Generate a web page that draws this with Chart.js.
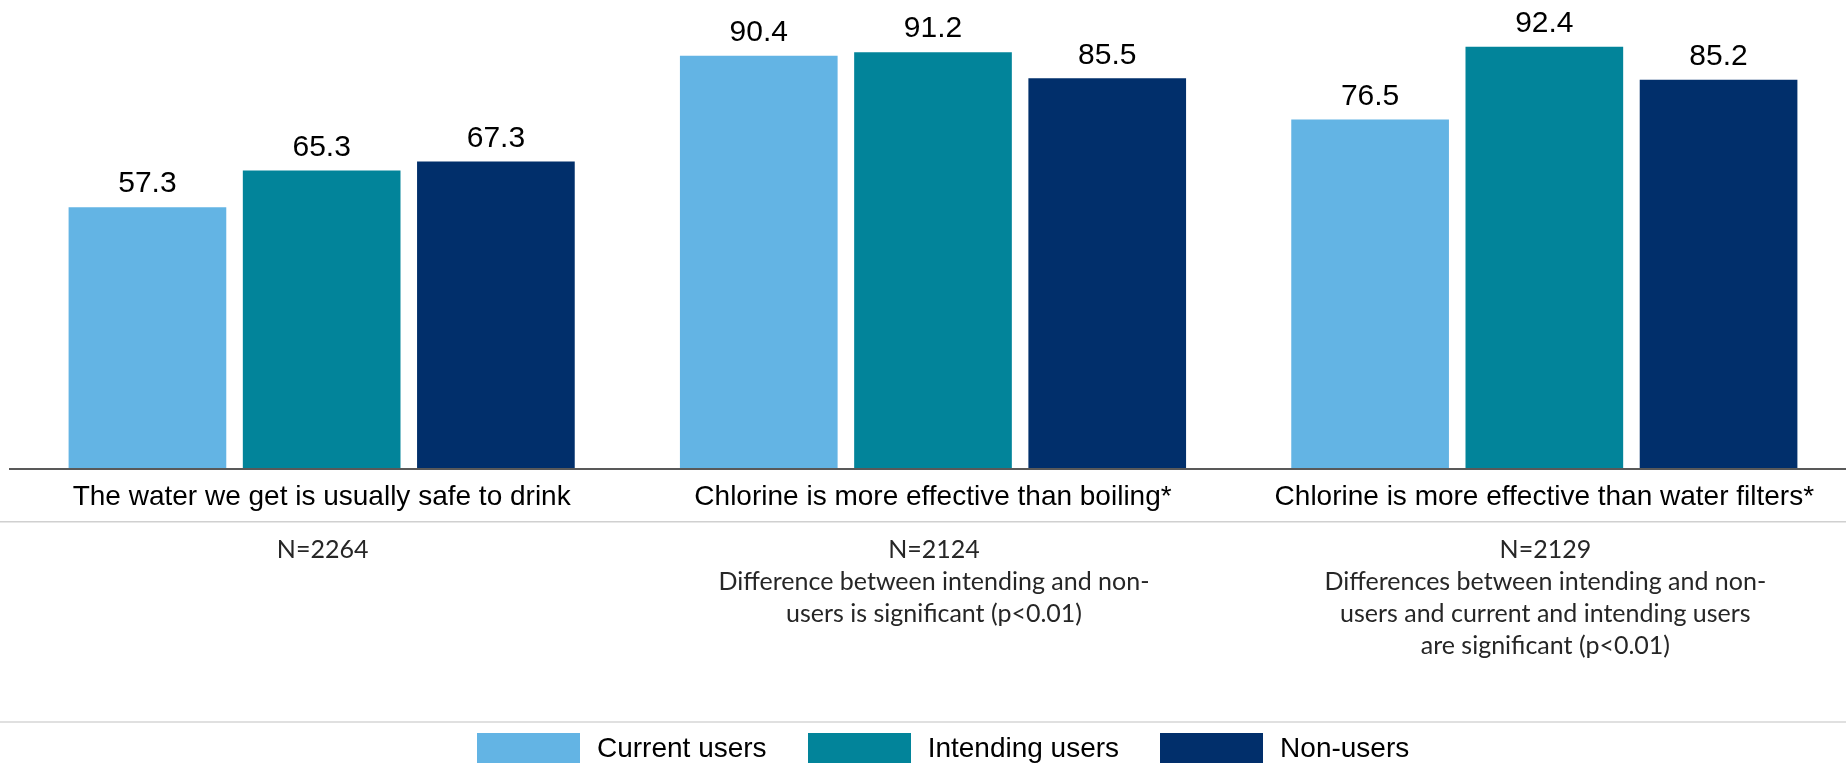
<!DOCTYPE html>
<html>
<head>
<meta charset="utf-8">
<script src="https://cdn.jsdelivr.net/npm/chart.js@4/dist/chart.umd.min.js"></script>
<style>
  html, body { margin: 0; padding: 0; background: #fff; }
  #wrap { position: relative; width: 1846px; height: 763px; overflow: hidden; }
  #chart { position: absolute; left: 0; top: 0; }
  .legend { position: absolute; left: 477px; top: 732px; display: flex; align-items: center;
            font-family: "Liberation Sans", Arial, sans-serif; font-size: 28px; color: #000; }
  .legend .item { display: flex; align-items: center; margin-right: 41px; }
  .legend .box { width: 103px; height: 30px; margin-right: 17px; }
</style>
</head>
<body>
<div id="wrap">
  <canvas id="chart" width="1850" height="763"></canvas>
  <div class="legend" id="legend"></div>
</div>
<script>
// Datos
const categories = [
    'The water we get is usually safe to drink',
    'Chlorine is more effective than boiling*',
    'Chlorine is more effective than water filters*'
];
const seriesNames = ['Current users', 'Intending users', 'Non-users'];
const currentUsers = [57.3, 90.4, 76.5];
const intendingUsers = [65.3, 91.2, 92.4];
const nonUsers = [67.3, 85.5, 85.2];
const colors = ['#63B4E4', '#02849A', '#012F6B'];

// Notas debajo de cada categoría
const notes = [
    ['N=2264'],
    ['N=2124', 'Difference between intending and non-', 'users is significant (p<0.01)'],
    ['N=2129', 'Differences between intending and non-', 'users and current and intending users', 'are significant (p<0.01)']
];

// Etiquetas de valores encima de las barras
const valueLabels = {
    id: 'valueLabels',
    afterDatasetsDraw(chart) {
        const ctx = chart.ctx;
        ctx.save();
        ctx.font = '30px "Liberation Sans", Arial, sans-serif';
        ctx.fillStyle = '#000';
        ctx.textAlign = 'center';
        ctx.textBaseline = 'middle';
        chart.data.datasets.forEach((ds, i) => {
            chart.getDatasetMeta(i).data.forEach((bar, j) => {
                ctx.fillText(ds.data[j].toFixed(1), bar.x, bar.y - 23);
            });
        });
        ctx.restore();
    }
};

// Eje, líneas grises y notas
const notesPlugin = {
    id: 'notesPlugin',
    afterDraw(chart) {
        const ctx = chart.ctx;
        const xScale = chart.scales.x;
        const area = chart.chartArea;
        ctx.save();
        // línea del eje
        ctx.fillStyle = '#595959';
        ctx.fillRect(9, area.bottom - 1, chart.width, 2);
        // separadores
        ctx.fillStyle = '#d0d0d0';
        ctx.fillRect(0, 521, chart.width, 1.5);
        ctx.fillStyle = '#e0e0e0';
        ctx.fillRect(0, 721, chart.width, 2);

        ctx.font = '25px Lato, "Noto Sans", sans-serif';
        ctx.fillStyle = '#262626';
        ctx.textAlign = 'center';
        ctx.textBaseline = 'alphabetic';
        notes.forEach((lines, i) => {
            const x = xScale.getPixelForValue(i) + 1;
            lines.forEach((line, k) => {
                ctx.fillText(line, x, 558 + k * 32);
            });
        });
        ctx.restore();
    }
};

const ctx = document.getElementById('chart').getContext('2d');
const chart = new Chart(ctx, {
    type: 'bar',
    data: {
        labels: categories,
        datasets: [
            { label: seriesNames[0], data: currentUsers, backgroundColor: colors[0] },
            { label: seriesNames[1], data: intendingUsers, backgroundColor: colors[1] },
            { label: seriesNames[2], data: nonUsers, backgroundColor: colors[2] }
        ]
    },
    options: {
        responsive: false,
        animation: false,
        datasets: {
            bar: { categoryPercentage: 0.855, barPercentage: 0.905 }
        },
        layout: { padding: { left: 16, right: 0, top: 12, bottom: 0 } },
        plugins: {
            legend: { display: false },
            tooltip: { enabled: false }
        },
        scales: {
            x: {
                grid: { display: false, drawTicks: false },
                border: { display: false },
                ticks: {
                    padding: 11,
                    color: '#000',
                    font: { family: '"Liberation Sans", Arial, sans-serif', size: 28 },
                    maxRotation: 0,
                    autoSkip: false
                },
                afterFit(scale) { scale.height = 294; }
            },
            y: {
                display: false,
                min: 0,
                max: 100
            }
        }
    },
    plugins: [valueLabels, notesPlugin]
});

// Leyenda
const legendEl = document.getElementById('legend');
seriesNames.forEach((name, i) => {
    const item = document.createElement('div');
    item.className = 'item';
    item.innerHTML = `<span class="box" style="background:${colors[i]}"></span><span>${name}</span>`;
    legendEl.appendChild(item);
});
</script>
</body>
</html>
